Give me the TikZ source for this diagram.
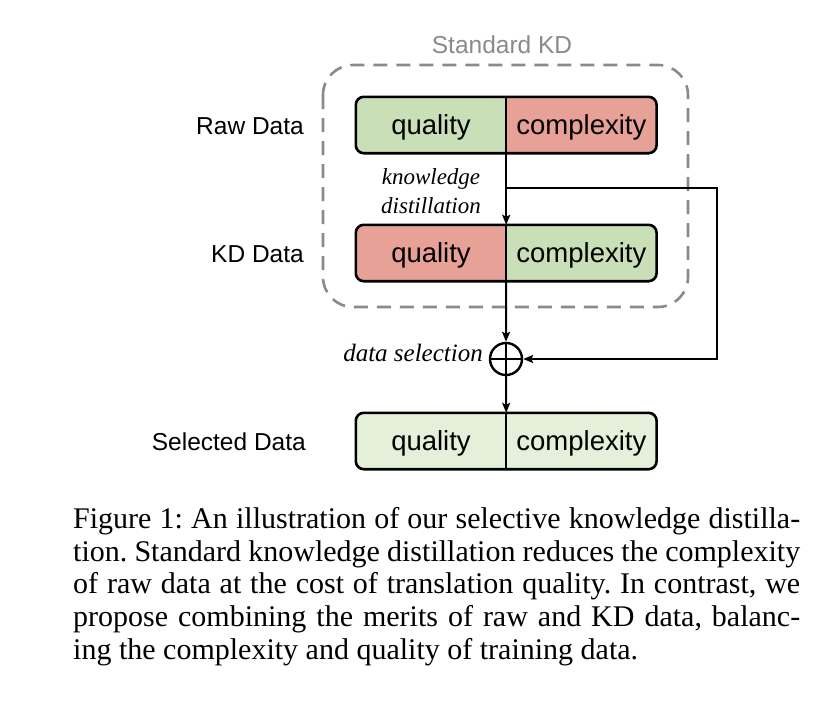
\documentclass[tikz,border=0pt]{standalone}
\usepackage{fontspec}
\setmainfont{Liberation Serif}
\newfontfamily\labelfont{Liberation Sans}
\usetikzlibrary{calc,positioning,arrows.meta,backgrounds}

\definecolor{goodc}{HTML}{C9DFB8}
\definecolor{badc}{HTML}{E8A196}
\definecolor{lightc}{HTML}{E5F0DB}
\definecolor{kdgray}{HTML}{8A8A8A}

\begin{document}
\begin{tikzpicture}[
	%	style def
    x=1pt, y=-1pt,
    half/.style={minimum width=150pt, minimum height=56pt, inner sep=0pt,
        text height=22pt, text depth=4pt,
        font=\labelfont\fontsize{27.5}{30}\selectfont},
    rowlabel/.style={anchor=east, inner sep=0pt, text height=22pt, text depth=4pt,
        font=\labelfont\fontsize{24.5}{28}\selectfont},
    edgelabel/.style={font=\itshape\fontsize{23}{28.5}\selectfont, align=center},
    box line/.style={line width=2.6pt, rounded corners=8pt},
    flow/.style={line width=2pt, -{Stealth[length=10pt,width=8pt,inset=2pt]}},
    every node/.style={color=black}
    ]
	\useasboundingbox (0,0) rectangle (840,712);

	% title of the dashed group
	\node[font=\labelfont\fontsize{24.5}{28}\selectfont, text=kdgray] (stdkd) at (502,45) {Standard KD};

	% raw data row
	\node[half] (rawq) at (431,125) {quality};
	\node[half, right=0pt of rawq] (rawc) {complexity};
	\node[rowlabel] (rawlab) at (304,125) {Raw Data};

	% kd data row
	\node[half] (kdq) at (431,253) {quality};
	\node[half, right=0pt of kdq] (kdc) {complexity};
	\node[rowlabel] (kdlab) at (304,253) {KD Data};

	% selected data row
	\node[half] (selq) at (431,441) {quality};
	\node[half, right=0pt of selq] (selc) {complexity};
	\node[rowlabel] (sellab) at (306,441) {Selected Data};

	% fills behind the text
	\begin{scope}[on background layer]
		\begin{scope}
			\clip[rounded corners=8pt] (rawq.north west) rectangle (rawc.south east);
			\fill[goodc] (rawq.north west) rectangle (rawq.south east);
			\fill[badc] (rawc.north west) rectangle (rawc.south east);
		\end{scope}
		\begin{scope}
			\clip[rounded corners=8pt] (kdq.north west) rectangle (kdc.south east);
			\fill[badc] (kdq.north west) rectangle (kdq.south east);
			\fill[goodc] (kdc.north west) rectangle (kdc.south east);
		\end{scope}
		\begin{scope}
			\clip[rounded corners=8pt] (selq.north west) rectangle (selc.south east);
			\fill[lightc] (selq.north west) rectangle (selc.south east);
		\end{scope}
	\end{scope}

	% outlines and dividers
	\draw[box line] (rawq.north west) rectangle (rawc.south east);
	\draw[box line] (kdq.north west) rectangle (kdc.south east);
	\draw[box line] (selq.north west) rectangle (selc.south east);
	\draw[line width=2pt] (rawq.north east) -- (rawq.south east);
	\draw[line width=2pt] (kdq.north east) -- (kdq.south east);
	\draw[line width=2pt] (selq.north east) -- (selq.south east);

	% standard kd group
	\draw[kdgray, line width=2.6pt, dash pattern=on 14pt off 9pt, rounded corners=30pt]
		(323,65) rectangle (688,307);

	% selection operator
	\node[circle, draw, line width=2.4pt, minimum size=32pt, inner sep=0pt] (sel) at (506,359) {};
	\draw[line width=2.4pt] (sel.north) -- (sel.south) (sel.west) -- (sel.east);

	% connections
	\coordinate (split) at (506,188);
	\coordinate (fbturn) at (717,188);
	\draw[flow] (rawq.south east) -- (kdq.north east);
	\draw[flow] (split) -- (fbturn) |- (sel.east);
	\draw[flow] (kdq.south east) -- (sel.north);
	\draw[flow] (sel.south) -- (selq.north east);

	% edge labels
	\node[edgelabel] (kdtext) at (431,191) {knowledge\\distillation};
	\node[edgelabel, font=\itshape\fontsize{25}{28}\selectfont, anchor=base east, inner sep=0pt] (seltext) at (483,361) {data selection};

	% caption
	\node[anchor=north west, inner sep=0pt, text width=727pt, align=justify,
		font=\fontsize{30}{32.75}\selectfont\frenchspacing] (caption) at (73,507)
		{Figure 1: An illustration of our selective knowledge distilla-\linebreak
		tion. Standard knowledge distillation reduces the complexity\linebreak
		of raw data at the cost of translation quality. In contrast, we\linebreak
		propose combining the merits of raw and KD data, balanc-\linebreak
		ing the complexity and quality of training data.};
\end{tikzpicture}
\end{document}
